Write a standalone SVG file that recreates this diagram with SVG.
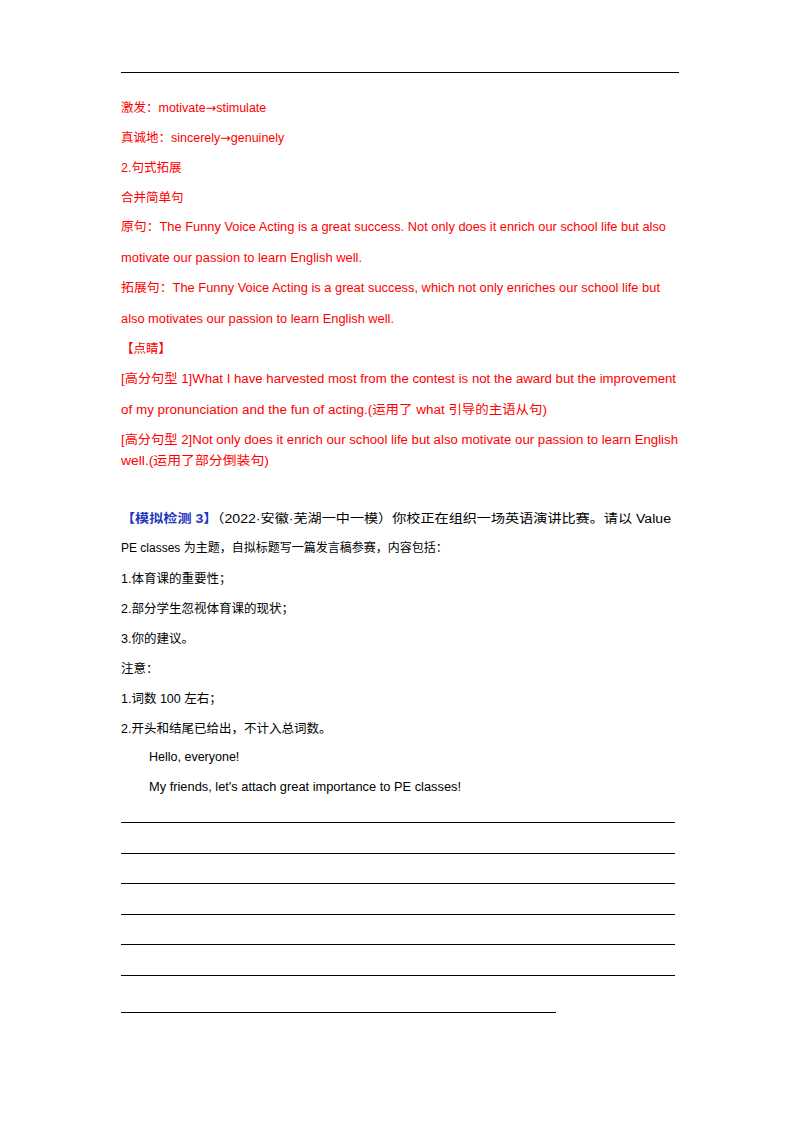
<svg xmlns="http://www.w3.org/2000/svg" width="800" height="1132" viewBox="0 0 800 1132">
<style>
text{font-family:"Liberation Sans","Noto Sans CJK SC",sans-serif;font-size:12.5px;fill:#000}
.r{fill:#ff0000}
.b{fill:#1f36c0;font-weight:bold}
.a{font-family:"DejaVu Sans",sans-serif}
line{stroke:#000;stroke-width:1}
</style>
<rect width="800" height="1132" fill="#fff"/>
<line x1="121" y1="72.5" x2="679" y2="72.5" stroke-width="1.5"/>
<text class="r" x="121" y="112">激发：motivate<tspan class="a">→</tspan>stimulate</text>
<text class="r" x="121" y="142">真诚地：sincerely<tspan class="a">→</tspan>genuinely</text>
<text class="r" x="121" y="172">2.句式拓展</text>
<text class="r" x="121" y="202">合并简单句</text>
<text class="r" x="121" y="231" textLength="545" lengthAdjust="spacingAndGlyphs">原句：The Funny Voice Acting is a great success. Not only does it enrich our school life but also</text>
<text class="r" x="121" y="262" textLength="241" lengthAdjust="spacingAndGlyphs">motivate our passion to learn English well.</text>
<text class="r" x="121" y="292" textLength="539" lengthAdjust="spacingAndGlyphs">拓展句：The Funny Voice Acting is a great success, which not only enriches our school life but</text>
<text class="r" x="121" y="323" textLength="273" lengthAdjust="spacingAndGlyphs">also motivates our passion to learn English well.</text>
<text class="r" x="121" y="353">【点睛】</text>
<text class="r" x="121" y="383" textLength="555" lengthAdjust="spacingAndGlyphs">[高分句型 1]What I have harvested most from the contest is not the award but the improvement</text>
<text class="r" x="121" y="414" textLength="426" lengthAdjust="spacingAndGlyphs">of my pronunciation and the fun of acting.(运用了 what 引导的主语从句)</text>
<text class="r" x="121" y="444" textLength="557" lengthAdjust="spacingAndGlyphs">[高分句型 2]Not only does it enrich our school life but also motivate our passion to learn English</text>
<text class="r" x="121" y="465" textLength="148" lengthAdjust="spacingAndGlyphs">well.(运用了部分倒装句)</text>
<text x="121" y="523" textLength="550" lengthAdjust="spacingAndGlyphs"><tspan class="b">【模拟检测 3】</tspan>（2022·安徽·芜湖一中一模）你校正在组织一场英语演讲比赛。请以 Value</text>
<text x="121" y="552" style="font-size:12px">PE classes 为主题，自拟标题写一篇发言稿参赛，内容包括：</text>
<text x="121" y="583">1.体育课的重要性；</text>
<text x="121" y="613">2.部分学生忽视体育课的现状；</text>
<text x="121" y="643">3.你的建议。</text>
<text x="121" y="673">注意：</text>
<text x="121" y="703">1.词数 100 左右；</text>
<text x="121" y="733">2.开头和结尾已给出，不计入总词数。</text>
<text x="149" y="761">Hello, everyone!</text>
<text x="149" y="791" textLength="312" lengthAdjust="spacingAndGlyphs">My friends, let's attach great importance to PE classes!</text>
<g>
<line x1="121" y1="822.5" x2="675" y2="822.5"/>
<line x1="121" y1="853.5" x2="675" y2="853.5"/>
<line x1="121" y1="883.5" x2="675" y2="883.5"/>
<line x1="121" y1="914.5" x2="675" y2="914.5"/>
<line x1="121" y1="944.5" x2="675" y2="944.5"/>
<line x1="121" y1="975.5" x2="675" y2="975.5"/>
<line x1="121" y1="1012.5" x2="556" y2="1012.5"/>
</g>
</svg>
